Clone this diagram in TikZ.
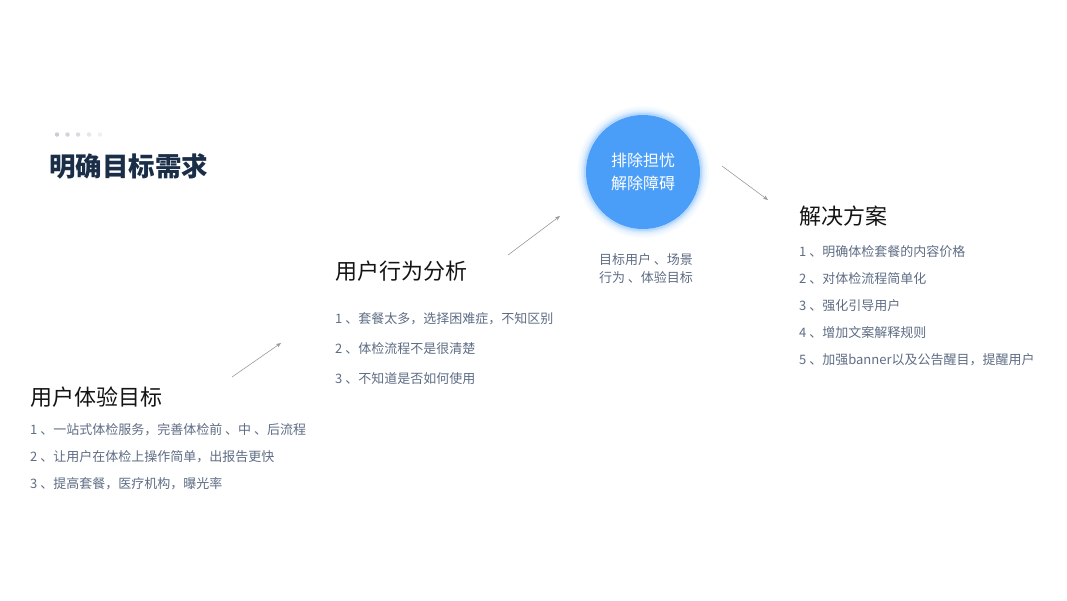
\documentclass[tikz,border=0pt]{standalone}
\usepackage{fontspec}
\setmainfont{Noto Sans CJK SC}
\usetikzlibrary{arrows.meta}
\definecolor{titlecol}{HTML}{1B2E48}
\definecolor{itemcol}{HTML}{5E6C84}
\definecolor{circcol}{HTML}{4A9EF7}
\definecolor{arrcol}{HTML}{9A9A9A}
\definecolor{dotcol}{HTML}{C8CDD6}
\tikzset{
  heading/.style={anchor=west, inner sep=0pt, font=\fontsize{22}{25}\selectfont, text=black!92},
  item/.style={anchor=west, inner sep=0pt, font=\fontsize{13}{15}\selectfont, text=itemcol},
  flowarrow/.style={draw=arrcol, line width=0.6pt, -{Stealth[length=5pt,width=4pt]}},
  dotstyle/.style={circle, fill=dotcol, inner sep=0pt, minimum size=4.5pt},
}
\begin{document}
\begin{tikzpicture}[x=1pt,y=-1pt]
\useasboundingbox (0,0) rectangle (1067,600);
% dots
\node[dotstyle] (d1) at (57,134.5) {};
\node[dotstyle, opacity=0.85] (d2) at (67.5,134.5) {};
\node[dotstyle, opacity=0.7] (d3) at (78,134.5) {};
\node[dotstyle, opacity=0.5] (d4) at (89,134.5) {};
\node[dotstyle, opacity=0.3] (d5) at (100,134.5) {};
% title
\node[anchor=west, inner sep=0pt, font=\fontsize{26.5}{30}\selectfont\bfseries, text=titlecol] (title) at (49,166) {明确目标需求};
% left block
\node[heading] (h1) at (30,397) {用户体验目标};
\node[item] (a1) at (30,430) {1 、一站式体检服务，完善体检前 、中 、后流程};
\node[item] (a2) at (30,457) {2 、让用户在体检上操作简单，出报告更快};
\node[item] (a3) at (30,484) {3 、提高套餐，医疗机构，曝光率};
% middle block
\node[heading] (h2) at (335,271) {用户行为分析};
\node[item] (b1) at (335,319) {1 、套餐太多，选择困难症，不知区别};
\node[item] (b2) at (335,349) {2 、体检流程不是很清楚};
\node[item] (b3) at (335,379) {3 、不知道是否如何使用};
% circle with glow
\foreach \r/\o in {66/0.04,64/0.06,62/0.08,60.5/0.12,59/0.18}{
  \fill[circcol, opacity=\o] (643,172) circle (\r);
}
\node[circle, fill=circcol, minimum size=114pt, inner sep=0pt] (circ) at (643,172) {};
\node[align=center, text=white, font=\fontsize{16}{23}\selectfont, inner sep=0pt] (ctext) at (643,172) {排除担忧\\解除障碍};
\node[align=center, text=itemcol, font=\fontsize{13}{18}\selectfont, inner sep=0pt] (ctext2) at (646,268.5) {目标用户 、场景\\行为 、体验目标};
% right block
\node[heading] (h3) at (799,216) {解决方案};
\node[item] (c1) at (799,252) {1 、明确体检套餐的内容价格};
\node[item] (c2) at (799,279) {2 、对体检流程简单化};
\node[item] (c3) at (799,306) {3 、强化引导用户};
\node[item] (c4) at (799,333) {4 、增加文案解释规则};
\node[item] (c5) at (799,360) {5 、加强banner以及公告醒目，提醒用户};
% arrows
\coordinate (p1s) at (232,377); \coordinate (p1e) at (281,343);
\coordinate (p2s) at (508,255); \coordinate (p2e) at (560,216);
\coordinate (p3s) at (722,166); \coordinate (p3e) at (768,200);
\draw[flowarrow] (p1s) -- (p1e);
\draw[flowarrow] (p2s) -- (p2e);
\draw[flowarrow] (p3s) -- (p3e);
\end{tikzpicture}
\end{document}
